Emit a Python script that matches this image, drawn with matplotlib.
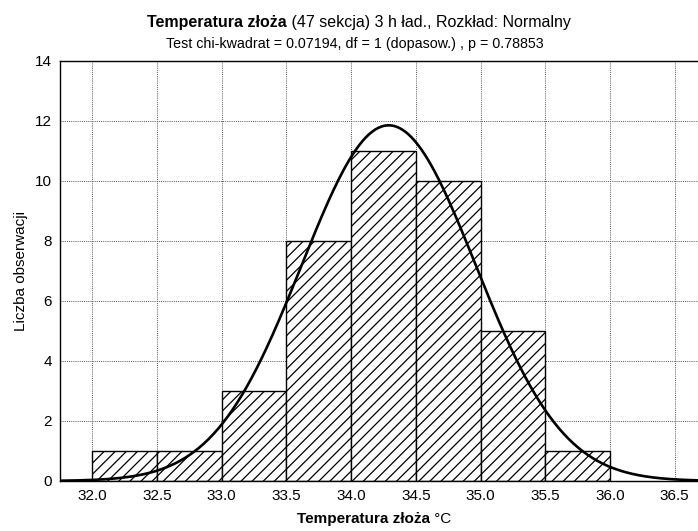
import numpy as np
import matplotlib
matplotlib.use("Agg")
import matplotlib.pyplot as plt

plt.rcParams["font.family"] = ["Liberation Sans", "DejaVu Sans"]
plt.rcParams["hatch.linewidth"] = 0.9

# histogram data (class edges and counts)
bin_left = [32.0, 32.5, 33.0, 33.5, 34.0, 34.5, 35.0, 35.5]
counts = [1, 1, 3, 8, 11, 10, 5, 1]
bin_width = 0.5

# fitted normal curve parameters
fit_mean = 34.29
fit_sd = 0.673
n_obs = sum(counts)

x_ticks = [32.0, 32.5, 33.0, 33.5, 34.0, 34.5, 35.0, 35.5, 36.0, 36.5]
y_ticks = [0, 2, 4, 6, 8, 10, 12, 14]

fig = plt.figure(figsize=(6.98, 5.31), dpi=100)
ax = fig.add_axes([60 / 698, 50 / 531, 638 / 698, 420 / 531])

ax.bar(bin_left, counts, width=bin_width, align="edge", color="white",
       edgecolor="black", hatch="///", linewidth=1.0, zorder=2)

xs = np.linspace(31.75, 36.68, 400)
pdf = np.exp(-0.5 * ((xs - fit_mean) / fit_sd) ** 2) / (fit_sd * np.sqrt(2 * np.pi))
ax.plot(xs, n_obs * bin_width * pdf, color="black", linewidth=1.9, zorder=3)

ax.set_xlim(31.75, 36.68)
ax.set_ylim(0, 14)
ax.set_xticks(x_ticks)
ax.set_xticklabels([f"{t:.1f}" for t in x_ticks])
ax.set_yticks(y_ticks)
ax.tick_params(length=0, pad=6, labelsize=11)
ax.grid(True, color="#555555", linestyle=(0, (1, 1.2)), linewidth=0.7, zorder=0)
ax.set_axisbelow(True)
ax.spines["right"].set_visible(False)
for s in ["left", "top", "bottom"]:
    ax.spines[s].set_linewidth(1.0)

ax.set_ylabel("Liczba obserwacji", fontsize=11, labelpad=5)


def mixed_text(cx, cy, parts, size):
    # draw pieces of text side by side, centred on cx (pixels)
    renderer = fig.canvas.get_renderer()
    objs = []
    for s, w in parts:
        t = fig.text(0, cy / 531, s, fontsize=size, fontweight=w,
                     ha="left", va="center")
        objs.append(t)
    widths = [t.get_window_extent(renderer).width for t in objs]
    x = cx - sum(widths) / 2
    for t, w in zip(objs, widths):
        t.set_x(x / 698)
        x += w


fig.canvas.draw()
mixed_text(359, 531 - 22, [("Temperatura złoża", "bold"),
                           (" (47 sekcja) 3 h ład., Rozkład: Normalny", "normal")], 11.5)
mixed_text(355, 531 - 44, [("Test chi-kwadrat = 0.07194, df = 1 (dopasow.) , p = 0.78853",
                            "normal")], 10.3)
mixed_text(374, 531 - 519, [("Temperatura złoża", "bold"), (" °C", "normal")], 11)

fig.savefig("out.png", dpi=100, facecolor="white")
